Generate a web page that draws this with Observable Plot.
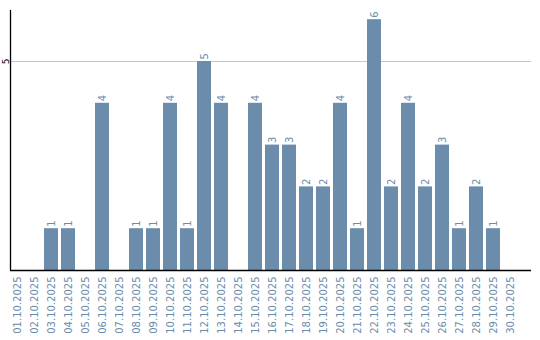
<!DOCTYPE html>
<html><head><meta charset="utf-8">
<script src="https://cdn.jsdelivr.net/npm/d3@7"></script>
<script src="https://cdn.jsdelivr.net/npm/@observablehq/plot@0.6"></script>
<style>body{margin:0;background:#fff;font-family:"DejaVu Sans";}</style>
</head><body><div id="chart"></div>
<script>
const dates = ["01.10.2025","02.10.2025","03.10.2025","04.10.2025","05.10.2025","06.10.2025","07.10.2025","08.10.2025","09.10.2025","10.10.2025","11.10.2025","12.10.2025","13.10.2025","14.10.2025","15.10.2025","16.10.2025","17.10.2025","18.10.2025","19.10.2025","20.10.2025","21.10.2025","22.10.2025","23.10.2025","24.10.2025","25.10.2025","26.10.2025","27.10.2025","28.10.2025","29.10.2025","30.10.2025"];
const counts = [0,0,1,1,0,4,0,1,1,4,1,5,4,0,4,3,3,2,2,4,1,6,2,4,2,3,1,2,1,0];
const yTicks = [5];
const data = dates.map((d,i)=>({date:d, count:counts[i]}));
const nonzero = data.filter(d=>d.count>0);
const col = "#6b8cab";
const axisLines = (index, scales, values, dims) => {
  const g = d3.create("svg:g");
  const l = dims.marginLeft, b = dims.height - dims.marginBottom;
  g.append("line").attr("x1", l+0.5).attr("x2", l+0.5).attr("y1", dims.marginTop).attr("y2", b)
    .attr("stroke","#000").attr("stroke-width",1.3);
  g.append("line").attr("x1", l).attr("x2", dims.width - dims.marginRight).attr("y1", b+0.5).attr("y2", b+0.5)
    .attr("stroke","#000").attr("stroke-width",1.3);
  return g.node();
};
const chart = Plot.plot({
  width:540, height:340,
  marginLeft:10, marginRight:9, marginTop:10, marginBottom:70,
  style:{fontFamily:"DejaVu Sans", fontSize:"10px", background:"#fff"},
  x:{domain:dates, paddingInner:0.176, paddingOuter:0.412, align:0, round:false},
  y:{domain:[0,6.22]},
  marks:[
    Plot.ruleY(yTicks,{stroke:"#c8c8c8", strokeWidth:1}),
    Plot.barY(nonzero,{x:"date", y:"count", fill:col}),
    Plot.text(nonzero,{x:"date", y:"count", text:d=>String(d.count), rotate:-90, textAnchor:"start", dy:-2, fill:col, fontSize:10}),
    Plot.axisX({tickSize:0, tickPadding:6, tickRotate:-90, color:col, fontSize:10, label:null}),
    Plot.axisY(yTicks,{tickSize:0, tickPadding:2, tickRotate:-90, fontSize:9, color:"#000", label:null}),
    axisLines
  ]
});
document.getElementById("chart").appendChild(chart);
</script></body></html>
